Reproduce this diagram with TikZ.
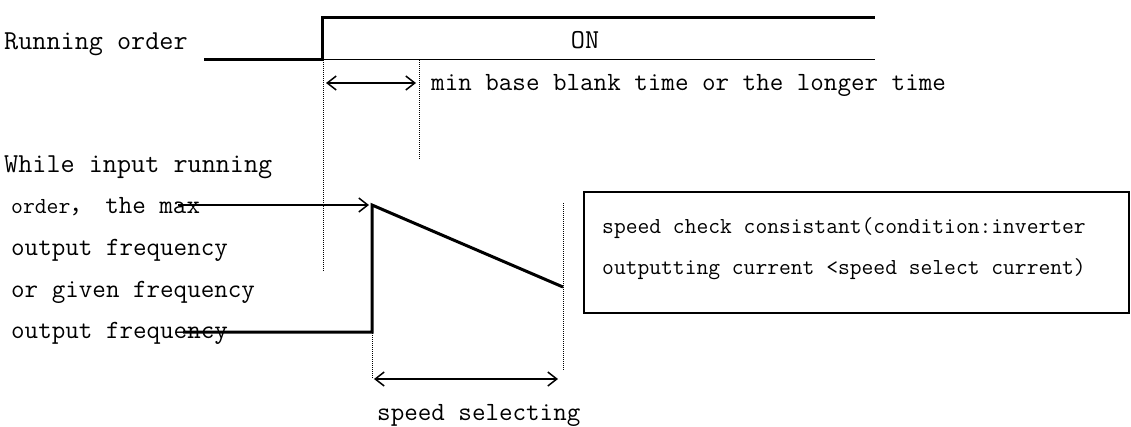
\documentclass[tikz,border=0pt]{standalone}
\usepackage{fontspec}
\setmonofont{Latin Modern Mono}
\newfontfamily\cjkfont{Noto Sans CJK SC}
\usetikzlibrary{arrows.meta}
\tikzset{
  lbl/.style={anchor=base west, inner sep=0pt, font=\ttfamily\fontsize{26.3}{29}\selectfont},
  lblbig/.style={anchor=base west, inner sep=0pt, font=\ttfamily\fontsize{27.4}{30}\selectfont},
  lblbox/.style={anchor=base west, inner sep=0pt, font=\ttfamily\fontsize{22.9}{26}\selectfont},
  sig/.style={line width=3pt, line join=miter},
  thin/.style={line width=1pt},
  dotline/.style={line width=1pt, dash pattern=on 1pt off 1pt},
  dimarrow/.style={line width=1.5pt, {Straight Barb[length=9pt,width=14pt,line width=1.5pt]}-{Straight Barb[length=9pt,width=14pt,line width=1.5pt]}},
  onearrow/.style={line width=1.5pt, -{Straight Barb[length=9pt,width=14pt,line width=1.5pt]}},
  infobox/.style={draw, line width=2pt, inner sep=0pt}
}
\begin{document}
\begin{tikzpicture}[x=1pt,y=-1pt]
\useasboundingbox (0,0) rectangle (1131,426);
% coordinates
\coordinate (r0) at (204,59);
\coordinate (r1) at (322,59);
\coordinate (r2) at (322,17);
\coordinate (r3) at (875,17);
\coordinate (r4) at (875,59);
\coordinate (d1t) at (323,60);
\coordinate (d1b) at (323,272);
\coordinate (d2t) at (419,60);
\coordinate (d2b) at (419,160);
\coordinate (a1l) at (326,83);
\coordinate (a1r) at (416,83);
\coordinate (f0) at (183,332);
\coordinate (f1) at (372,332);
\coordinate (f2) at (372,205);
\coordinate (f3) at (563,287);
\coordinate (d3t) at (372,333);
\coordinate (d3b) at (372,378);
\coordinate (d4t) at (563,203);
\coordinate (d4b) at (563,370);
\coordinate (a2l) at (374,379);
\coordinate (a2r) at (558,379);
\coordinate (a3s) at (178,205);
\coordinate (a3e) at (369,205);
% texts
\node[lblbig] (t1) at (4,49) {Running order};
\node[lblbig, anchor=base] (ton) at (585,48) {ON};
\node[lbl] (tmin) at (431,90) {min base blank time or the longer time};
\node[lblbig] (tw1) at (4,172) {While input running};
\node[lbl] (tw2) at (11,213) {\fontsize{23}{26}\selectfont order{\cjkfont ，} \fontsize{26.3}{29}\selectfont the max};
\node[lbl] (tw3) at (11,255) {output frequency};
\node[lbl] (tw4) at (11,297) {or given frequency};
\node[lbl] (tw5) at (11,338) {output frequency};
\node[lbl] (tsel) at (377,420) {speed selecting};
\node[infobox, minimum width=545pt, minimum height=121pt, anchor=north west] (box) at (583,191) {};
\node[lblbox] (b1) at (602,233) {speed check consistant(condition:inverter};
\node[lblbox] (b2) at (602,274) {outputting current <speed select current)};
% running order signal
\draw[sig] (r0) -- (r1) -- (r2) -- (r3);
\draw[thin] (r1) -- (r4);
\draw[dotline] (d1t) -- (d1b);
\draw[dotline] (d2t) -- (d2b);
\draw[dimarrow] (a1l) -- (a1r);
% frequency
\draw[onearrow] (a3s) -- (a3e);
\draw[sig] (f0) -- (f1) -- (f2) -- (f3);
\draw[dotline] (d3t) -- (d3b);
\draw[dotline] (d4t) -- (d4b);
\draw[dimarrow] (a2l) -- (a2r);
\end{tikzpicture}
\end{document}
